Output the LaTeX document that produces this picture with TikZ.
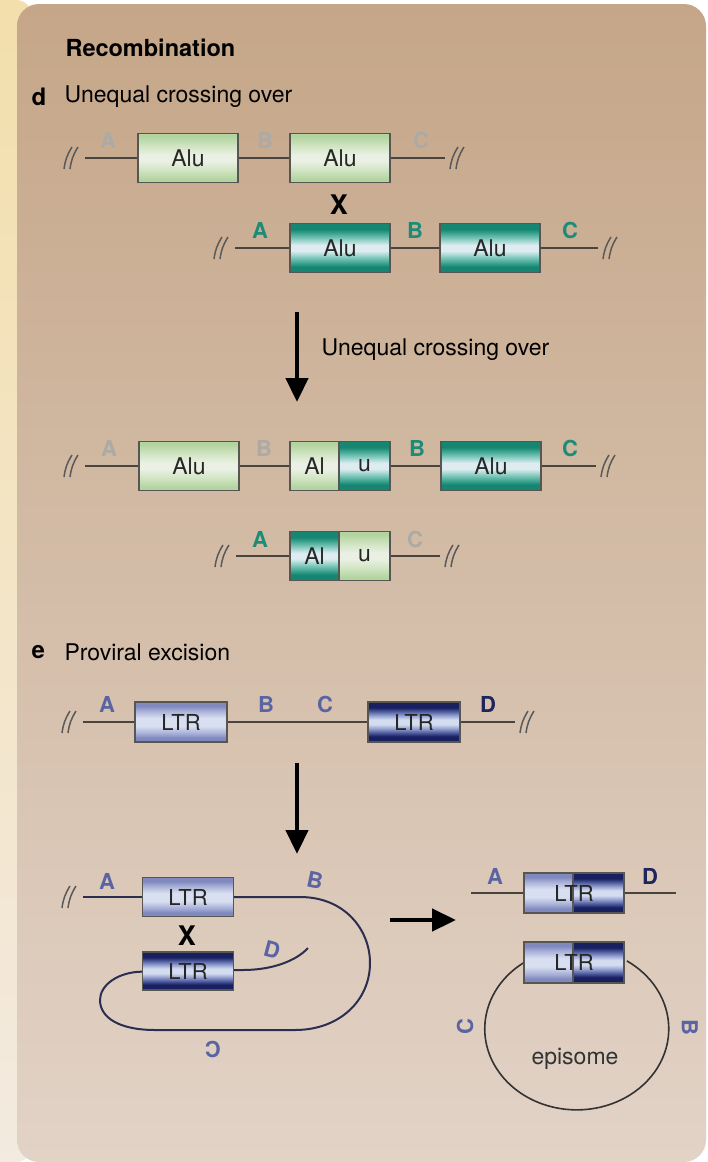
\documentclass[tikz,border=0pt]{standalone}
\usepackage{fontspec}
\setmainfont{TeX Gyre Heros}
\usetikzlibrary{arrows.meta}

\definecolor{paneltop}{RGB}{197,166,136}
\definecolor{panelbot}{RGB}{226,211,199}
\definecolor{stripetop}{RGB}{243,223,172}
\definecolor{stripebot}{RGB}{243,234,224}
\definecolor{gedge}{RGB}{178,212,160}
\definecolor{gmid}{RGB}{210,229,196}
\definecolor{gcen}{RGB}{234,241,228}
\definecolor{tdk}{RGB}{22,134,115}
\definecolor{tmd}{RGB}{62,166,146}
\definecolor{tlt}{RGB}{150,210,200}
\definecolor{tcen}{RGB}{222,236,242}
\definecolor{ldk}{RGB}{128,137,190}
\definecolor{lmd}{RGB}{168,176,216}
\definecolor{lcen}{RGB}{216,223,240}
\definecolor{ndk}{RGB}{24,32,96}
\definecolor{nmd}{RGB}{70,84,150}
\definecolor{nlt}{RGB}{150,162,210}
\definecolor{ncen}{RGB}{212,220,240}
\definecolor{boxline}{RGB}{88,86,82}
\definecolor{dnagray}{RGB}{72,68,64}
\definecolor{dnanavy}{RGB}{44,46,80}
\definecolor{labgray}{RGB}{172,170,164}
\definecolor{labteal}{RGB}{28,140,120}
\definecolor{labslate}{RGB}{90,100,162}
\definecolor{labnavy}{RGB}{30,36,92}

\pgfdeclareverticalshading{alubox}{100bp}{color(0bp)=(gedge); color(28bp)=(gedge); color(38bp)=(gmid); color(47bp)=(gcen); color(53bp)=(gcen); color(62bp)=(gmid); color(72bp)=(gedge); color(100bp)=(gedge)}
\pgfdeclareverticalshading{tealbox}{100bp}{color(0bp)=(tdk); color(31bp)=(tdk); color(35bp)=(tmd); color(42bp)=(tlt); color(47bp)=(tcen); color(53bp)=(tcen); color(58bp)=(tlt); color(65bp)=(tmd); color(69bp)=(tdk); color(100bp)=(tdk)}
\pgfdeclareverticalshading{ltrbox}{100bp}{color(0bp)=(ldk); color(30bp)=(ldk); color(36bp)=(lmd); color(45bp)=(lcen); color(55bp)=(lcen); color(64bp)=(lmd); color(70bp)=(ldk); color(100bp)=(ldk)}
\pgfdeclareverticalshading{navybox}{100bp}{color(0bp)=(ndk); color(32bp)=(ndk); color(36bp)=(nmd); color(42bp)=(nlt); color(47bp)=(ncen); color(53bp)=(ncen); color(58bp)=(nlt); color(64bp)=(nmd); color(68bp)=(ndk); color(100bp)=(ndk)}

\tikzset{
  box/.style={draw=boxline, line width=1.2pt, inner sep=0pt, minimum height=49pt,
    text=black!85, font=\fontsize{23}{26}\selectfont},
  alu/.style={box, minimum width=100pt, shade, shading=alubox},
  tealalu/.style={box, minimum width=100pt, shade, shading=tealbox},
  ltr/.style={box, minimum width=92pt, minimum height=40pt, shade, shading=ltrbox,
    font=\fontsize{22}{24}\selectfont},
  darkltr/.style={ltr, shading=navybox},
  brk/.style={inner sep=0pt, minimum width=26pt, minimum height=24pt},
  brkline/.style={draw=black!65, line width=1.5pt},
  dna/.style={draw=dnagray, line width=2pt},
  lab/.style={font=\fontsize{22}{24}\selectfont\bfseries},
  cross/.style={font=\fontsize{27}{28}\selectfont\bfseries},
  head/.style={font=\fontsize{23}{26}\selectfont},
  bigarrow/.style={line width=4.5pt, -{Triangle[length=24pt,width=22pt]}}
}

\begin{document}
\begin{tikzpicture}[x=1pt,y=-1pt]
\useasboundingbox (0,0) rectangle (708,1162);

% background
\fill[white] (0,0) rectangle (708,1162);
\shade[top color=stripetop,bottom color=stripebot,rounded corners=16pt] (-30,0) rectangle (32,1162);
\shade[top color=paneltop,bottom color=panelbot,rounded corners=22pt] (17,4) rectangle (706,1162);

\node[head,anchor=west,font=\fontsize{23.5}{26}\selectfont\bfseries] (title) at (62,48) {Recombination};
\node[head,anchor=west,font=\fontsize{24}{26}\selectfont\bfseries] (dmark) at (28,97) {d};
\node[head,anchor=west] (dtext) at (61,97) {Unequal crossing over};

% d: first pair
\node[brk] (r1l) at (72,158) {};
\node[alu] (a1) at (188,158) {Alu};
\node[alu] (a2) at (340,158) {Alu};
\node[brk] (r1r) at (458,158) {};
\draw[dna] (r1l) -- (a1) (a1) -- (a2) (a2) -- (r1r);
\node[lab,labgray] (r1A) at (108,140) {A};
\node[lab,labgray] (r1B) at (265,140) {B};
\node[lab,labgray] (r1C) at (421,140) {C};

\node[cross] (x1) at (339,205) {X};

\node[brk] (r2l) at (222,248) {};
\node[tealalu] (t1) at (340,248) {Alu};
\node[tealalu] (t2) at (490,248) {Alu};
\node[brk] (r2r) at (611,248) {};
\draw[dna] (r2l) -- (t1) (t1) -- (t2) (t2) -- (r2r);
\node[lab,labteal] (r2A) at (260,230) {A};
\node[lab,labteal] (r2B) at (415,230) {B};
\node[lab,labteal] (r2C) at (570,230) {C};

\coordinate (ar1s) at (297,312);
\coordinate (ar1e) at (297,402);
\draw[bigarrow] (ar1s) -- (ar1e);
\node[head,anchor=west] (ar1t) at (318,350) {Unequal crossing over};

% d: products
\node[brk] (r3l) at (72,466) {};
\node[alu] (a5) at (189,466) {Alu};
\node[alu,minimum width=49pt] (h1) at (314.5,466) {Al};
\node[tealalu,minimum width=51pt] (h2) at (364.5,466) {u};
\node[tealalu] (t3) at (491,466) {Alu};
\node[brk] (r3r) at (609,466) {};
\draw[dna] (r3l) -- (a5) (a5) -- (h1) (h2) -- (t3) (t3) -- (r3r);
\node[lab,labgray] (r3A) at (109,448) {A};
\node[lab,labgray] (r3B) at (264,448) {B};
\node[lab,labteal] (r3B2) at (417,448) {B};
\node[lab,labteal] (r3C) at (570,448) {C};

\node[brk] (r4l) at (223,556) {};
\node[tealalu,minimum width=49pt] (h3) at (314.5,556) {Al};
\node[alu,minimum width=51pt] (h4) at (364.5,556) {u};
\node[brk] (r4r) at (453,556) {};
\draw[dna] (r4l) -- (h3) (h4) -- (r4r);
\node[lab,labteal] (r4A) at (260,539) {A};
\node[lab,labgray] (r4C) at (415,539) {C};

% e: proviral excision
\node[head,anchor=west,font=\fontsize{24}{26}\selectfont\bfseries] (emark) at (28,652) {e};
\node[head,anchor=west] (etext) at (61,652) {Proviral excision};

\node[brk] (r5l) at (70,722) {};
\node[ltr] (l1) at (181,722) {LTR};
\node[darkltr] (l2) at (414,722) {LTR};
\node[brk] (r5r) at (528,722) {};
\draw[dna] (r5l) -- (l1) (l1) -- (l2) (l2) -- (r5r);
\node[lab,labslate] (r5A) at (107,704) {A};
\node[lab,labslate] (r5B) at (266,704) {B};
\node[lab,labslate] (r5C) at (325,704) {C};
\node[lab,labnavy] (r5D) at (488,704) {D};

\coordinate (ar2s) at (297,763);
\coordinate (ar2e) at (297,854);
\draw[bigarrow] (ar2s) -- (ar2e);

% looped intermediate
\node[brk] (r6l) at (70,897) {};
\node[ltr,minimum width=91pt,minimum height=39pt] (lt1) at (188,897) {LTR};
\node[darkltr,minimum width=91pt,minimum height=38pt] (lt2) at (188,971) {LTR};
\coordinate (dend) at (308,948);
\draw[draw=dnanavy,line width=2pt] (r6l) -- (lt1);
\draw[draw=dnanavy,line width=2pt] (lt1) -- (300,897)
  .. controls (345,897) and (370,930) .. (370,963)
  .. controls (370,1000) and (340,1030) .. (295,1030) -- (155,1030)
  .. controls (120,1030) and (100,1018) .. (100,1000)
  .. controls (100,985) and (118,972) .. (lt2);
\draw[draw=dnanavy,line width=2pt] (lt2) -- (243,970) .. controls (270,970) and (295,962) .. (dend);
\node[lab,labslate] (r6A) at (107,881) {A};
\node[lab,labslate,rotate=-12] (r6B) at (315,880) {B};
\node[cross] (x2) at (187,936) {X};
\node[lab,labslate,rotate=-15] (r6D) at (272,950) {D};
\node[lab,labslate,rotate=180] (r6C) at (213,1050) {C};

\coordinate (ar3s) at (390,920);
\coordinate (ar3e) at (456,920);
\draw[bigarrow] (ar3s) -- (ar3e);

% products: chromosome and episome
\coordinate (ra) at (471,893);
\coordinate (rd) at (676,893);
\node[ltr,minimum width=49pt,minimum height=40pt] (rl1) at (548.5,893) {};
\node[darkltr,minimum width=51pt,minimum height=40pt] (rr1) at (598.5,893) {};
\node[box,draw=none,font=\fontsize{22}{24}\selectfont,minimum height=0pt] (rt1) at (574,893) {LTR};
\draw[dna] (ra) -- (rl1) (rr1) -- (rd);
\node[lab,labslate] (r7A) at (495,876) {A};
\node[lab,labnavy] (r7D) at (650,876) {D};

\draw[draw=black!80,line width=1.6pt] (524,962.5) arc[start angle=235,end angle=-57,x radius=92,y radius=81];
\node[ltr,minimum width=49pt,minimum height=41pt] (rl2) at (548.5,962.5) {};
\node[darkltr,minimum width=51pt,minimum height=41pt] (rr2) at (598.5,962.5) {};
\node[box,draw=none,font=\fontsize{22}{24}\selectfont,minimum height=0pt] (rt2) at (574,962) {LTR};
\node[lab,labslate,rotate=90] (r8C) at (465,1027) {C};
\node[lab,labslate,rotate=-90] (r8B) at (690,1027) {B};
\node[head,text=black!80] (epi) at (575,1059) {episome};

% break marks
\foreach \b in {r1l,r1r,r2l,r2r,r3l,r3r,r4l,r4r,r5l,r5r,r6l} {
  \draw[brkline] ([xshift=-8pt,yshift=-11pt]\b.center) to[bend left=12] ++(8pt,22pt);
  \draw[brkline] ([xshift=-2pt,yshift=-11pt]\b.center) to[bend left=12] ++(8pt,22pt);
}
\end{tikzpicture}
\end{document}
